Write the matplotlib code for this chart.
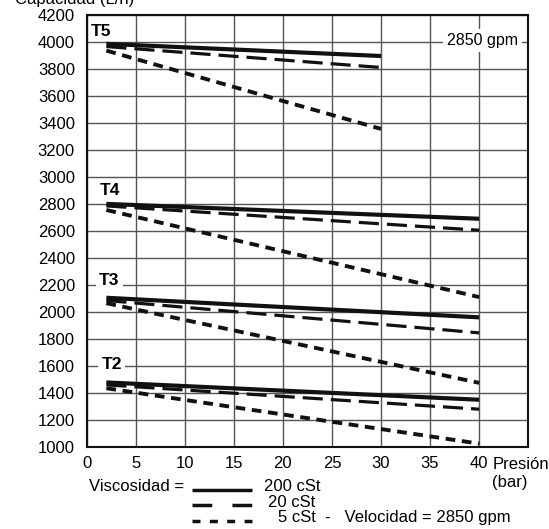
import matplotlib.pyplot as plt
from matplotlib.lines import Line2D

plt.rcParams['font.family'] = ['Liberation Sans', 'DejaVu Sans']

# pump models and their curves (start / end of each line)
models = ["T5", "T4", "T3", "T2"]
x_start = [2.0, 2.0, 2.0, 2.0]
x_end = [30, 40, 40, 40]
cap_200 = [[3985, 3895], [2800, 2690], [2105, 1960], [1478, 1350]]
cap_20 = [[3965, 3810], [2785, 2605], [2085, 1845], [1460, 1280]]
cap_5 = [[3935, 3355], [2755, 2110], [2065, 1475], [1435, 1025]]

label_x = [0.45, 1.35, 1.25, 1.5]
label_y = [4080, 2900, 2232, 1610]

x_ticks = [0, 5, 10, 15, 20, 25, 30, 35, 40]
y_ticks = list(range(1000, 4201, 200))

fig = plt.figure(figsize=(5.49, 5.29), dpi=100)
ax = fig.add_axes([0.158, 0.155, 0.804, 0.817])

for i, m in enumerate(models):
    xs = [x_start[i], x_end[i]]
    ax.plot(xs, cap_200[i], color="#111111", lw=3.0, solid_capstyle="butt", zorder=4)
    ax.plot(xs, cap_20[i], color="#111111", lw=2.3, dashes=(6.3, 2.5), zorder=4)
    ax.plot(xs, cap_5[i], color="#111111", lw=2.8, dashes=(2.5, 1.7), zorder=4)
    bb = dict(facecolor="white", edgecolor="none", pad=2.5) if m in ("T3", "T2") else None
    ax.text(label_x[i], label_y[i], m, fontsize=12.5, fontweight="bold",
            va="center", ha="left", bbox=bb, zorder=5)

ax.text(44.0, 4010, "2850 gpm", fontsize=11.5, ha="right", va="center",
        bbox=dict(facecolor="white", edgecolor="none", pad=3), zorder=5)

ax.set_xlim(0, 45)
ax.set_ylim(1000, 4200)
ax.set_xticks(x_ticks)
ax.set_yticks(y_ticks)
ax.tick_params(axis="y", length=0, labelsize=12, pad=8.5)
ax.tick_params(axis="x", length=0, labelsize=12, pad=6.5)
ax.grid(True, color="#555555", lw=1.0, zorder=0)
for s in ax.spines.values():
    s.set_linewidth(1.5)
    s.set_color("#111111")

fig.text(0.897, 0.121, "Presión", fontsize=12, ha="left", va="center")
fig.text(0.929, 0.088, "(bar)", fontsize=12, ha="center", va="center")

fig.text(0.028, 0.993, "Capacidad (L/h)", fontsize=12, ha="left", va="baseline")

# legend
fig.text(0.163, 0.081, "Viscosidad =", fontsize=12, ha="left", va="center")
fig.add_artist(Line2D([0.350, 0.459], [0.074, 0.074], color="#111111", lw=2.5,
                      solid_capstyle="butt", transform=fig.transFigure))
fig.add_artist(Line2D([0.350, 0.459], [0.046, 0.046], color="#111111", lw=2.5,
                      solid_capstyle="butt", dash_capstyle="butt",
                      dashes=(5.7, 5.8), transform=fig.transFigure))
fig.add_artist(Line2D([0.350, 0.459], [0.016, 0.016], color="#111111", lw=2.5,
                      dash_capstyle="butt", dashes=(2.3, 2.7),
                      transform=fig.transFigure))
fig.text(0.481, 0.081, "200 cSt", fontsize=12, ha="left", va="center")
fig.text(0.488, 0.051, "20 cSt", fontsize=12, ha="left", va="center")
fig.text(0.506, 0.021, "5 cSt  -   Velocidad = 2850 gpm", fontsize=12, ha="left", va="center")

fig.savefig("out.png", dpi=100)
